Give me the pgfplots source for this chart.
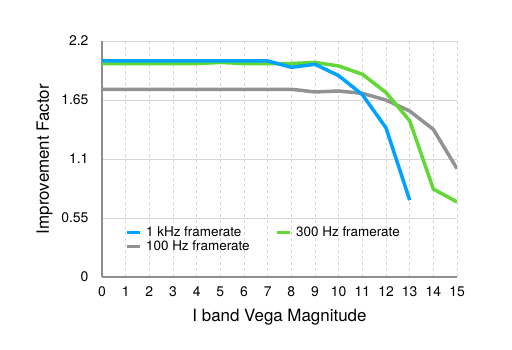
\documentclass[border=0pt]{standalone}
\usepackage{fontspec}
\setmainfont{TeX Gyre Heros}
\usepackage{pgfplots}
\pgfplotsset{compat=1.18}

\definecolor{kblue}{RGB}{0,162,255}
\definecolor{kgreen}{RGB}{97,216,54}
\definecolor{kgray}{RGB}{146,146,146}
\definecolor{axgray}{RGB}{142,142,142}
\definecolor{grd}{RGB}{214,214,214}

\begin{document}
\begin{tikzpicture}[x=1bp,y=1bp]
\useasboundingbox (0,0) rectangle (512,349);
\begin{axis}[
  at={(102bp,72bp)}, anchor=south west,
  scale only axis,
  width=355bp, height=236bp,
  xmin=0, xmax=15, ymin=0, ymax=2.2,
  xtick={0,1,...,15},
  ytick={0,0.55,1.1,1.65,2.2},
  yticklabels={0,0.55,1.1,1.65,2.2},
  /pgf/number format/assume math mode=true,
  tick style={draw=none},
  axis x line*=bottom, axis y line*=left,
  axis line style={draw=axgray, line width=1.3bp, -},
  ymajorgrids, xmajorgrids,
  y grid style={draw=grd, line width=0.8bp},
  x grid style={draw=grd, dashed, line width=0.6bp},
  ticklabel style={font=\fontsize{14}{16}\selectfont},
  xticklabel style={yshift=-6bp},
  yticklabel style={xshift=-10bp},
  xlabel={I band Vega Magnitude},
  ylabel={Improvement Factor},
  label style={font=\fontsize{17}{19}\selectfont},
  xlabel style={yshift=-6bp},
  ylabel style={yshift=2bp},
  legend columns=2,
  legend style={draw=none, fill=none, inner sep=0pt,
    at={(0.066,0.222)}, anchor=north west,
    font=\fontsize{13.5}{15}\selectfont, row sep=-1bp,
    /tikz/every even column/.append style={column sep=24bp}},
  legend cell align=left,
  legend image code/.code={\draw[#1, line width=2.6bp] (0bp,0bp) -- (13bp,0bp); \path (17bp,0bp);},
]
\addlegendimage{kblue}
\addlegendentry{1 kHz framerate}
\addlegendimage{kgreen}
\addlegendentry{300 Hz framerate}
\addlegendimage{kgray}
\addlegendentry{100 Hz framerate}

\addplot[kgray, line width=3.5bp, forget plot] coordinates {
  (0,1.75) (1,1.75) (2,1.75) (3,1.75) (4,1.75) (5,1.75) (6,1.75) (7,1.75) (8,1.75)
  (9,1.725) (10,1.734) (11,1.712) (12,1.65) (13,1.547) (14,1.376) (15,1.01)
};
\addplot[kgreen, line width=3.5bp, forget plot] coordinates {
  (0,1.99) (1,1.99) (2,1.99) (3,1.99) (4,1.99) (5,2.0) (6,1.99) (7,1.99) (8,1.99)
  (9,2.0) (10,1.967) (11,1.89) (12,1.72) (13,1.457) (14,0.82) (15,0.70)
};
\addplot[kblue, line width=3.5bp, forget plot] coordinates {
  (0,2.014) (1,2.014) (2,2.014) (3,2.014) (4,2.014) (5,2.014) (6,2.014) (7,2.014)
  (8,1.955) (9,1.983) (10,1.877) (11,1.70) (12,1.39) (13,0.716)
};
\end{axis}
\end{tikzpicture}
\end{document}
